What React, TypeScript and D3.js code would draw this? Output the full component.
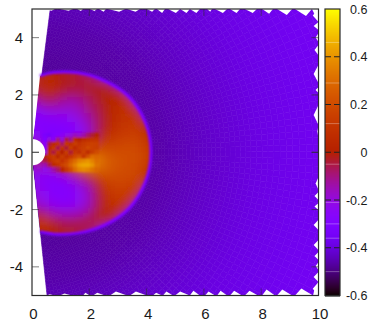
import React from "react";
import * as d3 from "d3";

const W = 371, H = 327;
const xTicks = [0, 2, 4, 6, 8, 10];
const yTicks = [-4, -2, 0, 2, 4];
const cbTicks = [-0.6, -0.4, -0.2, 0, 0.2, 0.4, 0.6];
const cbFaint = [0.46, 0.29, 0.12, -0.05, -0.21, -0.3, -0.36, -0.5];

// Shock front radius by polar angle
const shockAngles = [-84, -75, -60, -45, -30, -15, 0, 15, 30, 45, 60, 75, 84];
const shockRadii = [2.78, 2.95, 3.25, 3.6, 3.92, 4.09, 4.15, 4.09, 3.9, 3.55, 3.2, 2.88, 2.68];
const rimValue = -0.3;

// Ambient medium: value against radius
const ambientRadii = [0.4, 2.5, 3.5, 4.5, 5.5, 6.5, 8, 10, 11.5];
const ambientValues = [-0.48, -0.48, -0.47, -0.46, -0.44, -0.42, -0.39, -0.365, -0.35];

// Sawtooth of the outer grid boundary: [from, to, depth] in axis units
const topNotches = [
  [0.45, 0.8, 0.06], [0.98, 1.43, 0.06], [1.57, 1.78, 0.07], [2.02, 2.27, 0.07], [2.34, 2.58, 0.1],
  [2.65, 3.25, 0.1], [3.32, 3.77, 0.1], [4.01, 4.29, 0.1], [4.36, 4.64, 0.14], [4.75, 5.17, 0.14],
  [5.17, 5.51, 0.14], [5.51, 5.86, 0.14], [6.11, 6.28, 0.1], [6.39, 6.81, 0.14], [6.91, 7.26, 0.14],
  [7.43, 7.85, 0.14], [8.03, 8.41, 0.17], [8.55, 9.08, 0.21], [9.18, 9.77, 0.24], [9.77, 10, 0.3],
];
const bottomNotches = [
  [0.52, 0.8, 0.04], [0.98, 1.4, 0.07], [1.78, 2.02, 0.1], [2.13, 2.55, 0.1], [2.72, 3.32, 0.14],
  [3.42, 4.01, 0.14], [4.22, 4.54, 0.1], [4.57, 4.92, 0.14], [4.99, 5.51, 0.14], [5.51, 5.86, 0.17],
  [6.04, 6.39, 0.14], [6.46, 6.81, 0.17], [6.91, 7.33, 0.17], [7.43, 7.89, 0.17], [8.03, 8.48, 0.21],
  [8.55, 9.08, 0.21], [9.18, 9.81, 0.24], [9.81, 10, 0.3],
];
const rightNotches = [
  [5, 4.55, 0.2], [4.55, 4.27, 0.17], [4.16, 3.85, 0.1], [3.74, 3.39, 0.14], [3.05, 2.42, 0.17],
  [2.28, 2.07, 0.1], [1.65, 0.95, 0.17], [0.95, 0.5, 0.04], [-0.86, -1.32, 0.1], [-1.39, -1.67, 0.14],
  [-1.77, -2.02, 0.14], [-2.36, -2.71, 0.17], [-3.06, -3.41, 0.17], [-3.48, -3.76, 0.14],
  [-3.83, -4.11, 0.1], [-4.18, -4.53, 0.17], [-4.53, -5, 0.2],
];

// Disc field, hundredths
const discX = [0.15, 0.45, 0.75, 1.05, 1.35, 1.65, 1.95, 2.25, 2.55, 2.85, 3.15, 3.45, 3.75, 4.05];
const discY = [2.7, 2.4, 2.1, 1.8, 1.5, 1.2, 0.9, 0.6, 0.3, 0, -0.3, -0.6, -0.9, -1.2, -1.5, -1.8, -2.1, -2.4, -2.7];
const discRows = [
  [-5, 2, 0, -3, -3, -5, -8, -12, -30, -30, -30, -30, -30, -30],
  [3, 8, 6, 0, -2, -3, -3, -3, -4, -10, -30, -30, -30, -30],
  [-5, 5, 3, -3, -6, -6, -4, -2, 0, 2, 3, -20, -30, -30],
  [-15, -5, -8, -12, -15, -12, -8, -4, 0, 4, 6, 5, -25, -30],
  [-24, -20, -18, -18, -18, -16, -10, -6, 0, 5, 8, 10, -5, -30],
  [-28, -26, -25, -25, -24, -20, -14, -8, 0, 6, 9, 11, 10, -10],
  [-28, -29, -29, -28, -27, -24, -18, -8, 2, 8, 11, 13, 13, 0],
  [-24, -28, -31, -31, -29, -27, -20, -6, 6, 11, 13, 15, 16, 5],
  [-18, -26, -30, -30, -26, -18, -5, 10, 16, 17, 18, 18, 18, 10],
  [0, 0, 5, 10, 14, 18, 22, 24, 22, 20, 20, 20, 20, 12],
  [-10, 0, 10, 15, 22, 35, 40, 38, 28, 24, 22, 20, 20, 12],
  [-20, -22, -20, -10, 5, 20, 30, 28, 26, 22, 20, 20, 18, 8],
  [-24, -27, -27, -25, -20, -12, -2, 12, 18, 20, 19, 18, 17, 2],
  [-22, -26, -28, -28, -27, -22, -16, -2, 12, 16, 16, 15, 13, -10],
  [-20, -24, -27, -28, -27, -24, -18, -5, 8, 13, 13, 12, -3, -30],
  [-18, -22, -25, -26, -26, -23, -18, -6, 6, 10, 10, 4, -25, -30],
  [-5, -10, -16, -18, -18, -16, -12, -4, 3, 6, 2, -20, -30, -30],
  [8, 14, 0, -6, -7, -6, -4, 0, 1, -5, -25, -30, -30, -30],
  [3, 5, 0, -3, -4, -5, -8, -12, -25, -30, -30, -30, -30, -30],
];

// Turbulent core, hundredths
const coreX = [0.45, 0.6, 0.75, 0.9, 1.05, 1.2, 1.35, 1.5, 1.65, 1.8, 1.95, 2.1, 2.25];
const coreY = [0.6, 0.45, 0.3, 0.15, 0, -0.15, -0.3, -0.45, -0.6];
const coreRows = [
  [-32, -34, -30, -28, -25, -22, -20, -16, -18, -14, -8, -4, 0],
  [-30, -20, -26, -10, -20, -5, -12, 5, 0, 6, 8, 10, 10],
  [-25, -5, 5, 10, -8, 12, 8, 14, 10, 12, 15, 16, 15],
  [-25, 3, 12, -6, 10, -4, 14, 6, 12, 14, 18, 16, 14],
  [-20, 8, -5, 12, 0, 14, -4, 12, 8, 16, 6, 14, 20],
  [0, 10, 14, 4, 14, 8, 12, 18, 22, 10, 22, 30, 28],
  [-5, 6, 12, 16, 10, 16, 24, 30, 36, 38, 40, 36, 30],
  [-15, -6, 5, 10, 16, 20, 28, 35, 42, 44, 44, 40, 32],
  [-22, -20, -14, -8, 2, 12, 20, 30, 36, 38, 36, 32, 28],
];

const holeRadius = 0.46;
const wedgeDeg = 84;
const dThetaDeg = 1.45;
const dLogR = 0.025;
const rMin = 0.4;
const rMax = 12;

const x = d3.scaleLinear().domain([0, 10]).range([32, 318.5]);
const y = d3.scaleLinear().domain([-5, 5]).range([295.5, 9]);
const cb = d3.scaleLinear().domain([-0.6, 0.6]).range([295.5, 9]);

// gnuplot rgbformulae 7,5,15
function color(v: number) {
  const t = Math.max(0, Math.min(1, (v + 0.6) / 1.2));
  const r = Math.sqrt(t);
  const g = t * t * t;
  const b = Math.max(0, Math.sin(2 * Math.PI * t));
  return d3.rgb(r * 255, g * 255, b * 255).formatHex();
}

const ambient = d3.scaleLinear().domain(ambientRadii).range(ambientValues).clamp(true);
const rad = (d: number) => (d * Math.PI) / 180;
const polar = (r: number, deg: number): [number, number] => [r * Math.cos(rad(deg)), r * Math.sin(rad(deg))];

function ambientCells() {
  const cells: { d: string; fill: string }[] = [];
  const nT = Math.floor((2 * wedgeDeg) / dThetaDeg);
  const nR = Math.ceil(Math.log(rMax / rMin) / dLogR);
  for (let j = 0; j < nT; j++) {
    const a0 = -wedgeDeg + j * dThetaDeg, a1 = a0 + dThetaDeg;
    for (let i = 0; i < nR; i++) {
      const r0 = rMin * Math.exp(i * dLogR), r1 = r0 * Math.exp(dLogR);
      const c = [polar(r0, a0), polar(r1, a0), polar(r1, a1), polar(r0, a1)];
      if (c.every(([px, py]) => px > 10 || Math.abs(py) > 5)) continue;
      const p = d3.path();
      c.forEach(([px, py], k) => (k ? p.lineTo(x(px), y(py)) : p.moveTo(x(px), y(py))));
      p.closePath();
      cells.push({ d: p.toString(), fill: color(ambient((r0 + r1) / 2)) });
    }
  }
  return cells;
}

function edges(a: number[], pad: number) {
  return a.map((c, i) => {
    const prev = i ? (a[i - 1] + c) / 2 : c - (a[1] - a[0]) / 2 - pad * Math.sign(a[1] - a[0]);
    const next = i < a.length - 1 ? (a[i + 1] + c) / 2 : c + (a[1] - a[0]) / 2 + pad * Math.sign(a[1] - a[0]);
    return [prev, next];
  });
}

function Grid({ xs, ys, rows, pad }: { xs: number[]; ys: number[]; rows: number[][]; pad: number }) {
  const ex = edges(xs, pad), ey = edges(ys, pad);
  return (
    <>
      {rows.map((row, j) =>
        row.map((v, i) => (
          <rect
            key={`${i}-${j}`}
            x={x(ex[i][0])}
            width={x(ex[i][1]) - x(ex[i][0]) + 0.5}
            y={y(ey[j][0])}
            height={y(ey[j][1]) - y(ey[j][0]) + 0.5}
            fill={color(v / 100)}
          />
        ))
      )}
    </>
  );
}

const shockPoints: [number, number][] = shockAngles.map((a, i) => {
  const [px, py] = polar(shockRadii[i], a);
  return [x(px), y(py)];
});
const shockLine = d3.line().curve(d3.curveCatmullRom)(shockPoints) as string;
const discPath = `${shockLine}L${x(0)},${y(0)}Z`;

const poly = d3.line();
const topTooth = ([a, b, d]: number[]) =>
  poly([[x(a), y(5.1)], [x(a), y(5)], [x(a + (b - a) * 0.65), y(5 - d)], [x(b), y(5)], [x(b), y(5.1)]]) + "Z";
const bottomTooth = ([a, b, d]: number[]) =>
  poly([[x(a), y(-5.1)], [x(a), y(-5)], [x(a + (b - a) * 0.35), y(-5 + d)], [x(b), y(-5)], [x(b), y(-5.1)]]) + "Z";
const rightTooth = ([a, b, d]: number[]) =>
  poly([[x(10.1), y(a)], [x(10), y(a)], [x(10 - d), y((a + b) / 2)], [x(10), y(b)], [x(10.1), y(b)]]) + "Z";

const textStyle = { fontFamily: "Liberation Sans, Arial, sans-serif", fill: "#1a1a1a" };
const frame = "#2b2b2b";

export default function App() {
  const cells = ambientCells();
  const bar = d3.range(9, 295.5, 1);
  return (
    <svg width={W} height={H} style={{ position: "absolute", left: 0, top: 0, background: "#fff" }}>
      <defs>
        <clipPath id="disc"><path d={discPath} /></clipPath>
        <clipPath id="plot"><rect x={x(0)} y={y(5)} width={x(10) - x(0)} height={y(-5) - y(5)} /></clipPath>
        <filter id="b1" x="-20%" y="-20%" width="140%" height="140%"><feGaussianBlur stdDeviation="6" /></filter>
        <filter id="b2" x="-20%" y="-20%" width="140%" height="140%"><feGaussianBlur stdDeviation="1.1" /></filter>
        <filter id="b3" x="-5%" y="-5%" width="110%" height="110%"><feGaussianBlur stdDeviation="0.9" /></filter>
      </defs>

      <g clipPath="url(#plot)">
        {cells.map((c, i) => (
          <path key={i} d={c.d} fill={c.fill} stroke={c.fill} strokeWidth={0.6} />
        ))}
        <g clipPath="url(#disc)">
          <g filter="url(#b1)"><Grid xs={discX} ys={discY} rows={discRows} pad={0.6} /></g>
          <g filter="url(#b2)"><Grid xs={coreX} ys={coreY} rows={coreRows} pad={0} /></g>
        </g>
        <path d={shockLine} fill="none" stroke={color(rimValue)} strokeWidth={3} filter="url(#b3)" />
        <circle cx={x(0)} cy={y(0)} r={x(holeRadius) - x(0)} fill="#fff" />
        <g fill="#fff">
          {topNotches.map((n, i) => <path key={i} d={topTooth(n)} />)}
          {bottomNotches.map((n, i) => <path key={i} d={bottomTooth(n)} />)}
          {rightNotches.map((n, i) => <path key={i} d={rightTooth(n)} />)}
        </g>
      </g>

      {xTicks.slice(1, -1).map((t) => (
        <g key={t} stroke={frame} strokeWidth={1} strokeOpacity={0.55}>
          <line x1={x(t)} x2={x(t)} y1={y(-5)} y2={y(-5) - 7} />
          <line x1={x(t)} x2={x(t)} y1={y(5)} y2={y(5) + 7} />
        </g>
      ))}
      {yTicks.map((t) => (
        <g key={t} stroke={frame} strokeWidth={1} strokeOpacity={t === 0 ? 1 : 0.6}>
          <line x1={x(0)} x2={x(0) + 7} y1={y(t)} y2={y(t)} />
          <line x1={x(10)} x2={x(10) - 7} y1={y(t)} y2={y(t)} />
        </g>
      ))}
      <rect x={x(0)} y={y(5)} width={x(10) - x(0)} height={y(-5) - y(5)} fill="none" stroke={frame} strokeWidth={1.2} />

      {xTicks.map((t) => (
        <text key={t} x={x(t) + 1.5} y={319} textAnchor="middle" fontSize={15} style={textStyle}>{t}</text>
      ))}
      {yTicks.map((t) => (
        <text key={t} x={23} y={y(t) + 5.5} textAnchor="end" fontSize={15} style={textStyle}>{t}</text>
      ))}

      {bar.map((py) => (
        <rect key={py} x={325} y={py} width={15} height={1.5} fill={color(cb.invert(py + 0.5))} />
      ))}
      {cbFaint.map((v) => (
        <line key={v} x1={325} x2={340} y1={cb(v)} y2={cb(v)} stroke="#fff" strokeOpacity={0.3} />
      ))}
      {cbTicks.slice(1, -1).map((v) => (
        <g key={v} stroke="#222" strokeWidth={1}>
          <line x1={325} x2={331} y1={cb(v)} y2={cb(v)} />
          <line x1={334} x2={340} y1={cb(v)} y2={cb(v)} />
        </g>
      ))}
      <rect x={325} y={9} width={15} height={286.5} fill="none" stroke={frame} strokeWidth={1.2} />
      {cbTicks.map((v) => (
        <text key={v} x={367.5} y={cb(v) + 4.5} textAnchor="end" fontSize={12.5} style={textStyle}>{v === 0 ? "0" : v}</text>
      ))}
    </svg>
  );
}
